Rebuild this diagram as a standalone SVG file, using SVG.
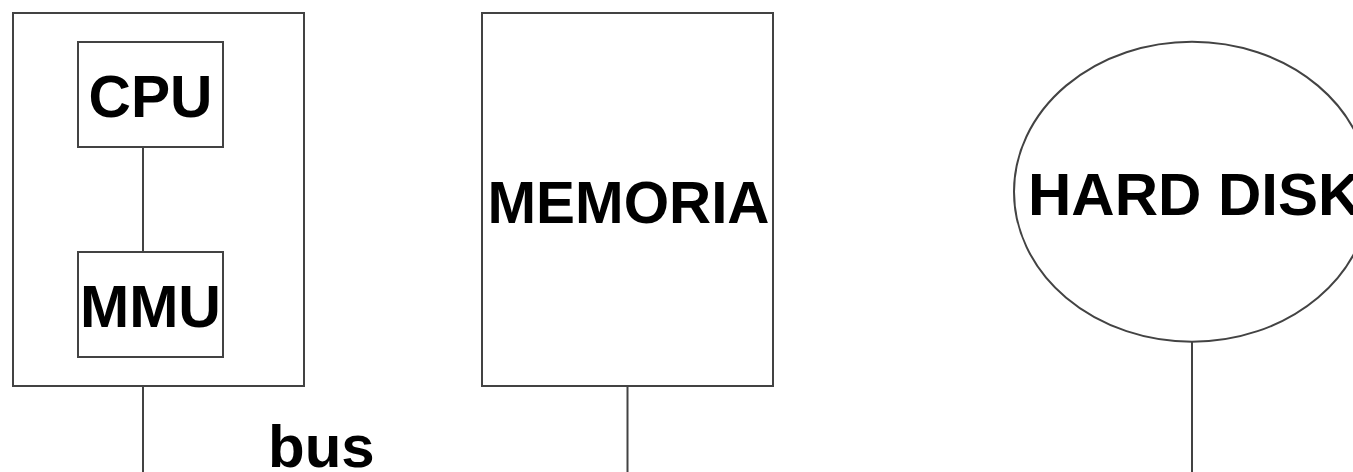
<svg xmlns="http://www.w3.org/2000/svg" width="1353" height="472" viewBox="0 0 1353 472">
<style>
.box{fill:#fff;stroke:#434343;stroke-width:2}
.lbl{font-family:"Liberation Sans",Arial,sans-serif;font-weight:bold;font-size:60px;fill:#000}
.wire{stroke:#434343;stroke-width:2;fill:none}
</style>
<rect width="1353" height="472" fill="#fff"/>
<g id="cpu-module">
<rect class="box" x="13" y="13" width="291" height="373"/>
</g>
<g id="cpu">
<rect class="box" x="78" y="42" width="145" height="105"/>
<text class="lbl" x="150.5" y="117" text-anchor="middle" textLength="124" lengthAdjust="spacingAndGlyphs">CPU</text>
</g>
<g id="mmu">
<rect class="box" x="78" y="252" width="145" height="105"/>
<text class="lbl" x="150.5" y="327" text-anchor="middle" textLength="141" lengthAdjust="spacingAndGlyphs">MMU</text>
</g>
<g id="memoria">
<rect class="box" x="482" y="13" width="291" height="373"/>
<text class="lbl" x="628.5" y="222.5" text-anchor="middle" textLength="282" lengthAdjust="spacingAndGlyphs">MEMORIA</text>
</g>
<g id="hard-disk">
<ellipse class="box" cx="1192" cy="191.7" rx="178" ry="150"/>
<text class="lbl" x="1028" y="215">HARD DISK</text>
</g>
<g id="bus-label">
<text class="lbl" x="268" y="466.5" font-size="56">bus</text>
</g>
<g id="connectors">
<line class="wire" x1="143" y1="147" x2="143" y2="252"/>
<line class="wire" x1="143" y1="386" x2="143" y2="472"/>
<line class="wire" x1="627.5" y1="386" x2="627.5" y2="472"/>
<line class="wire" x1="1192" y1="341.7" x2="1192" y2="472"/>
</g>
</svg>
